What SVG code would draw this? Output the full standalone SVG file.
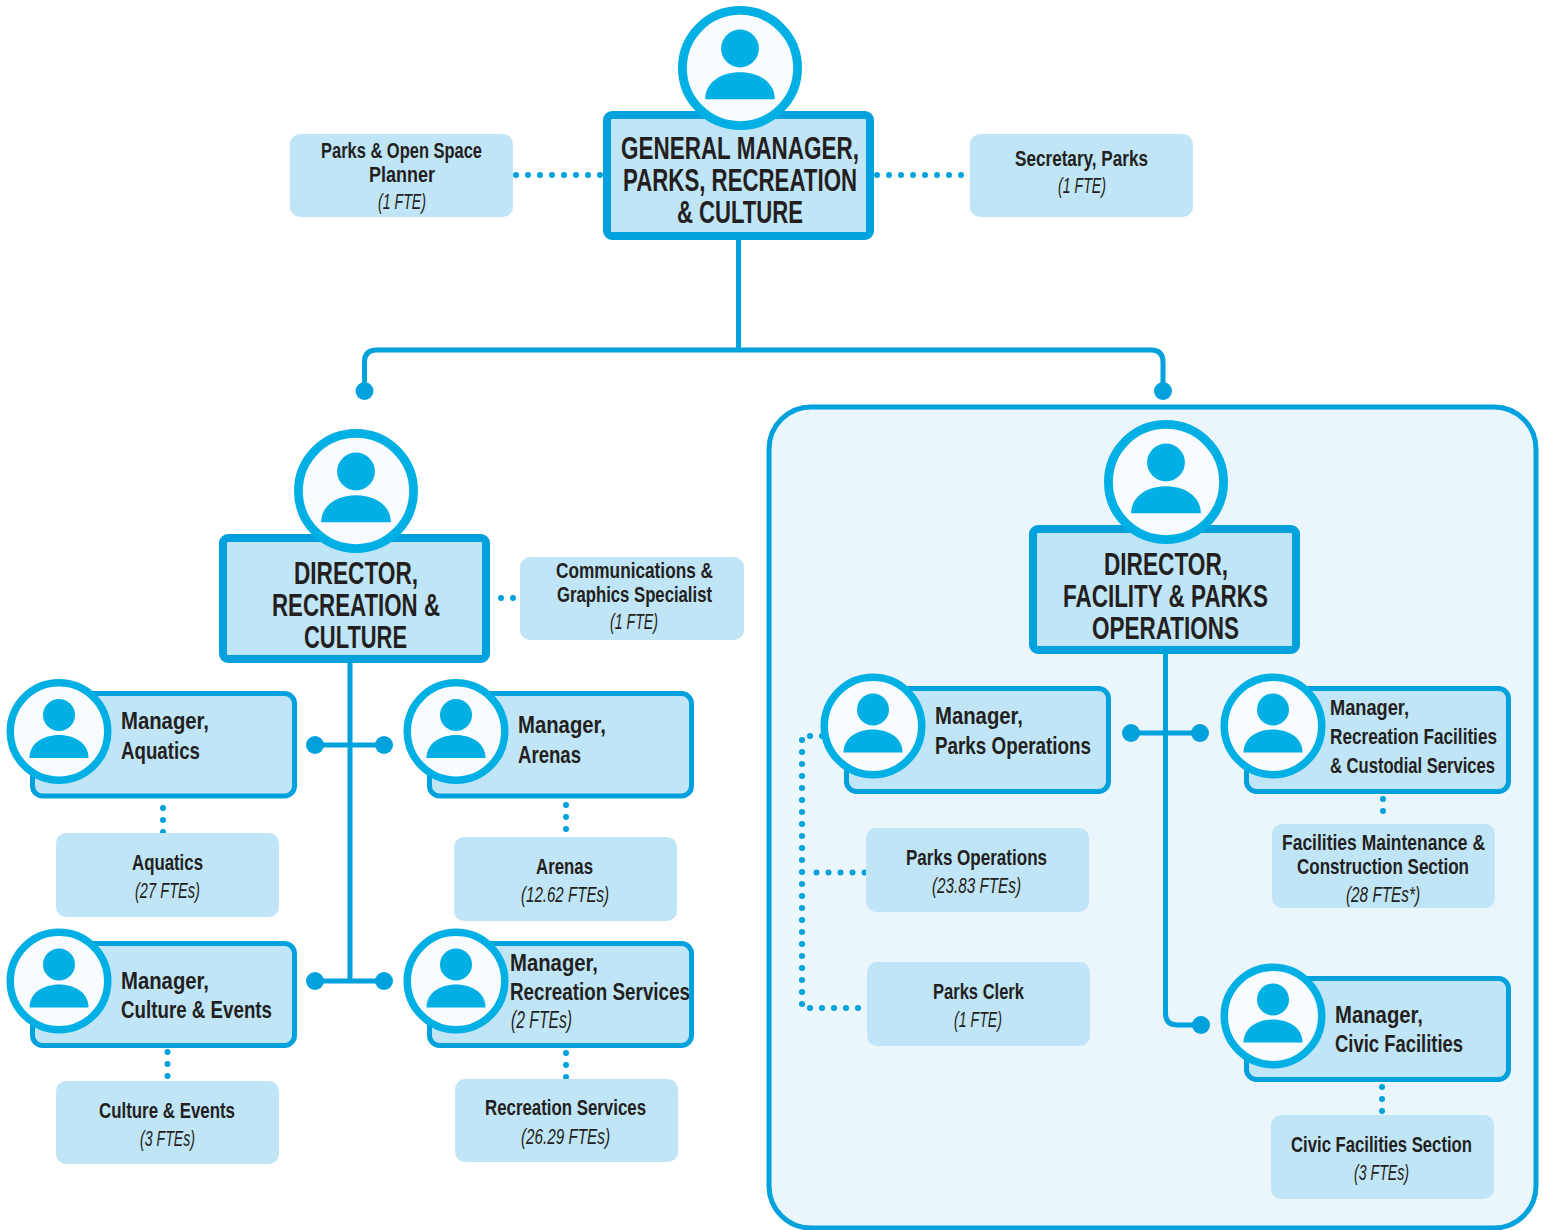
<svg xmlns="http://www.w3.org/2000/svg" width="1549" height="1230" viewBox="0 0 1549 1230">
<style>
text{font-family:"Liberation Sans",Arial,sans-serif;fill:#231f20}
.t{font-size:32px;font-weight:700;transform:translateY(-1px)}
.m{font-size:24px;font-weight:700;transform:translateY(-.5px)}
.s{font-size:21.5px;font-weight:700;transform:translateY(-.3px)}
.i{font-size:21.5px;font-style:italic;transform:translateY(-.7px)}
.big{fill:#c0e5f7;stroke:#00a1dc;stroke-width:8}
.mgr{fill:#c0e5f7;stroke:#00a1dc;stroke-width:5}
.unit{fill:#c0e5f7}
.line{fill:none;stroke:#00a1dc;stroke-width:5}
.dot{fill:none;stroke:#00a1dc;stroke-width:6;stroke-linecap:round;stroke-dasharray:0 12}
.end{fill:#00a1dc}
.ring{fill:#f9fcfe;stroke:#00b0e4;stroke-width:7.5}
.fig{fill:#00b0e4}
</style>
<defs>
<g id="person">
<circle class="ring" r="48.75"/>
<circle class="fig" cy="-16.5" r="16"/>
<path class="fig" d="M-29.5 26.5C-29.5 12-16 3.5 0 3.5C16 3.5 29.5 12 29.5 26.5Z"/>
</g>
</defs>
<rect id="panel" x="769" y="407" width="767" height="821" rx="42" fill="#eaf6fc" stroke="#00a1dc" stroke-width="5"/>
<g id="connectors">
<path class="line" d="M738.500 238V350M364.500 391V362Q364.500 350 376.500 350H1151Q1163 350 1163 362V391"/>
<circle class="end" cx="364.500" cy="391" r="9"/><circle class="end" cx="1163" cy="391" r="9"/>
<path class="dot" d="M516 175H603"/><path class="dot" d="M877 175H965"/>
<path class="line" d="M350 660V981"/>
<path class="line" d="M315 745H384M315 981H384"/>
<circle class="end" cx="315" cy="745" r="9"/><circle class="end" cx="384" cy="745" r="9"/>
<circle class="end" cx="315" cy="981" r="9"/><circle class="end" cx="384" cy="981" r="9"/>
<path class="dot" d="M501 598H516"/>
<path class="dot" d="M163 808V833"/><path class="dot" d="M566 805V835"/>
<path class="dot" d="M167.500 1052V1080"/><path class="dot" d="M566 1053V1078"/>
<path class="line" d="M1165.500 652V1013Q1165.500 1025 1177.500 1025H1201M1131 733H1200"/>
<circle class="end" cx="1131" cy="733" r="9"/><circle class="end" cx="1200" cy="733" r="9"/><circle class="end" cx="1201" cy="1025" r="9"/>
<path class="dot" d="M822 736H809.500"/>
<path class="dot" d="M802 740V1005"/>
<path class="dot" d="M810 1008H858.100"/>
<path class="dot" d="M816.500 872.500H864.600"/>
<path class="dot" d="M1383 799V822"/><path class="dot" d="M1382 1087V1113"/>
</g>
<g id="gm">
<rect class="big" x="607" y="115" width="263" height="121" rx="5"/>
<use href="#person" transform="translate(740 68) scale(1.181)"/>
<text class="t" x="621" y="160" textLength="238" lengthAdjust="spacingAndGlyphs">GENERAL MANAGER,</text>
<text class="t" x="623" y="192" textLength="234" lengthAdjust="spacingAndGlyphs">PARKS, RECREATION</text>
<text class="t" x="677" y="224" textLength="126" lengthAdjust="spacingAndGlyphs">&amp; CULTURE</text>
</g>
<g id="planner">
<rect class="unit" x="290" y="134" width="223" height="83" rx="10"/>
<text class="s" x="321" y="158" textLength="161" lengthAdjust="spacingAndGlyphs">Parks &amp; Open Space</text>
<text class="s" x="369" y="182" textLength="66" lengthAdjust="spacingAndGlyphs">Planner</text>
<text class="i" x="378" y="210" textLength="48" lengthAdjust="spacingAndGlyphs">(1 FTE)</text>
</g>
<g id="secretary">
<rect class="unit" x="970" y="134" width="223" height="83" rx="10"/>
<text class="s" x="1015" y="166" textLength="133" lengthAdjust="spacingAndGlyphs">Secretary, Parks</text>
<text class="i" x="1058" y="194" textLength="48" lengthAdjust="spacingAndGlyphs">(1 FTE)</text>
</g>
<g id="dir-rec">
<rect class="big" x="223" y="538" width="263" height="121" rx="5"/>
<use href="#person" transform="translate(356 491) scale(1.181)"/>
<text class="t" x="294" y="585" textLength="124" lengthAdjust="spacingAndGlyphs">DIRECTOR,</text>
<text class="t" x="272" y="617" textLength="168" lengthAdjust="spacingAndGlyphs">RECREATION &amp;</text>
<text class="t" x="304" y="649" textLength="103" lengthAdjust="spacingAndGlyphs">CULTURE</text>
</g>
<g id="comms">
<rect class="unit" x="520" y="557" width="224" height="83" rx="10"/>
<text class="s" x="556" y="578" textLength="157" lengthAdjust="spacingAndGlyphs">Communications &amp;</text>
<text class="s" x="557" y="602" textLength="155" lengthAdjust="spacingAndGlyphs">Graphics Specialist</text>
<text class="i" x="610" y="630" textLength="48" lengthAdjust="spacingAndGlyphs">(1 FTE)</text>
</g>
<g id="mgr-aquatics">
<rect class="mgr" x="32.500" y="693.500" width="262" height="102.500" rx="10"/>
<use href="#person" transform="translate(59 731.500)"/>
<text class="m" x="121" y="729" textLength="88" lengthAdjust="spacingAndGlyphs">Manager,</text>
<text class="m" x="121" y="759" textLength="79" lengthAdjust="spacingAndGlyphs">Aquatics</text>
</g>
<g id="mgr-arenas">
<rect class="mgr" x="429.500" y="693.500" width="262" height="102.500" rx="10"/>
<use href="#person" transform="translate(456 731.500)"/>
<text class="m" x="518" y="733" textLength="88" lengthAdjust="spacingAndGlyphs">Manager,</text>
<text class="m" x="518" y="763" textLength="63" lengthAdjust="spacingAndGlyphs">Arenas</text>
</g>
<g id="aquatics">
<rect class="unit" x="56" y="833" width="223" height="84" rx="10"/>
<text class="s" x="132" y="870" textLength="71" lengthAdjust="spacingAndGlyphs">Aquatics</text>
<text class="i" x="135" y="899" textLength="65" lengthAdjust="spacingAndGlyphs">(27 FTEs)</text>
</g>
<g id="arenas">
<rect class="unit" x="454" y="837" width="223" height="84" rx="10"/>
<text class="s" x="536" y="874" textLength="57" lengthAdjust="spacingAndGlyphs">Arenas</text>
<text class="i" x="521" y="903" textLength="88" lengthAdjust="spacingAndGlyphs">(12.62 FTEs)</text>
</g>
<g id="mgr-culture">
<rect class="mgr" x="32.500" y="943.500" width="262" height="102" rx="10"/>
<use href="#person" transform="translate(59 981)"/>
<text class="m" x="121" y="989" textLength="88" lengthAdjust="spacingAndGlyphs">Manager,</text>
<text class="m" x="121" y="1018" textLength="151" lengthAdjust="spacingAndGlyphs">Culture &amp; Events</text>
</g>
<g id="mgr-recservices">
<rect class="mgr" x="429.500" y="943.500" width="262" height="102" rx="10"/>
<use href="#person" transform="translate(456 981)"/>
<text class="m" x="510" y="971" textLength="88" lengthAdjust="spacingAndGlyphs">Manager,</text>
<text class="m" x="510" y="1000" textLength="180" lengthAdjust="spacingAndGlyphs">Recreation Services</text>
<text class="i" style="font-size:24px" x="511" y="1029" textLength="61" lengthAdjust="spacingAndGlyphs">(2 FTEs)</text>
</g>
<g id="culture">
<rect class="unit" x="56" y="1081" width="223" height="83" rx="10"/>
<text class="s" x="99" y="1118" textLength="136" lengthAdjust="spacingAndGlyphs">Culture &amp; Events</text>
<text class="i" x="140" y="1147" textLength="55" lengthAdjust="spacingAndGlyphs">(3 FTEs)</text>
</g>
<g id="recservices">
<rect class="unit" x="455" y="1079" width="223" height="83" rx="10"/>
<text class="s" x="485" y="1115" textLength="161" lengthAdjust="spacingAndGlyphs">Recreation Services</text>
<text class="i" x="521" y="1145" textLength="89" lengthAdjust="spacingAndGlyphs">(26.29 FTEs)</text>
</g>
<g id="dir-fac">
<rect class="big" x="1033" y="529" width="263" height="121" rx="5"/>
<use href="#person" transform="translate(1166 482) scale(1.181)"/>
<text class="t" x="1104" y="576" textLength="124" lengthAdjust="spacingAndGlyphs">DIRECTOR,</text>
<text class="t" x="1063" y="608" textLength="205" lengthAdjust="spacingAndGlyphs">FACILITY &amp; PARKS</text>
<text class="t" x="1092" y="640" textLength="147" lengthAdjust="spacingAndGlyphs">OPERATIONS</text>
</g>
<g id="mgr-parks">
<rect class="mgr" x="846.500" y="688.500" width="262" height="103" rx="10"/>
<use href="#person" transform="translate(873 726)"/>
<text class="m" x="935" y="724" textLength="88" lengthAdjust="spacingAndGlyphs">Manager,</text>
<text class="m" x="935" y="754" textLength="156" lengthAdjust="spacingAndGlyphs">Parks Operations</text>
</g>
<g id="mgr-recfac">
<rect class="mgr" x="1246.500" y="688.500" width="262" height="103" rx="10"/>
<use href="#person" transform="translate(1273 726)"/>
<text class="s" x="1330" y="715" textLength="79" lengthAdjust="spacingAndGlyphs">Manager,</text>
<text class="s" x="1330" y="744" textLength="167" lengthAdjust="spacingAndGlyphs">Recreation Facilities</text>
<text class="s" x="1330" y="773" textLength="165" lengthAdjust="spacingAndGlyphs">&amp; Custodial Services</text>
</g>
<g id="parksops">
<rect class="unit" x="866" y="828" width="223" height="84" rx="10"/>
<text class="s" x="906" y="865" textLength="141" lengthAdjust="spacingAndGlyphs">Parks Operations</text>
<text class="i" x="932" y="894" textLength="89" lengthAdjust="spacingAndGlyphs">(23.83 FTEs)</text>
</g>
<g id="parksclerk">
<rect class="unit" x="867" y="962" width="223" height="84" rx="10"/>
<text class="s" x="933" y="999" textLength="91" lengthAdjust="spacingAndGlyphs">Parks Clerk</text>
<text class="i" x="954" y="1028" textLength="48" lengthAdjust="spacingAndGlyphs">(1 FTE)</text>
</g>
<g id="facilities">
<rect class="unit" x="1272" y="824" width="223" height="84" rx="10"/>
<text class="s" x="1282" y="850" textLength="203" lengthAdjust="spacingAndGlyphs">Facilities Maintenance &amp;</text>
<text class="s" x="1297" y="874" textLength="172" lengthAdjust="spacingAndGlyphs">Construction Section</text>
<text class="i" x="1346" y="903" textLength="74" lengthAdjust="spacingAndGlyphs">(28 FTEs*)</text>
</g>
<g id="mgr-civic">
<rect class="mgr" x="1246.500" y="978.500" width="262" height="101" rx="10"/>
<use href="#person" transform="translate(1273 1016)"/>
<text class="m" x="1335" y="1023" textLength="88" lengthAdjust="spacingAndGlyphs">Manager,</text>
<text class="m" x="1335" y="1052" textLength="128" lengthAdjust="spacingAndGlyphs">Civic Facilities</text>
</g>
<g id="civic">
<rect class="unit" x="1271" y="1115" width="223" height="84" rx="10"/>
<text class="s" x="1291" y="1152" textLength="181" lengthAdjust="spacingAndGlyphs">Civic Facilities Section</text>
<text class="i" x="1354" y="1181" textLength="55" lengthAdjust="spacingAndGlyphs">(3 FTEs)</text>
</g>
</svg>
